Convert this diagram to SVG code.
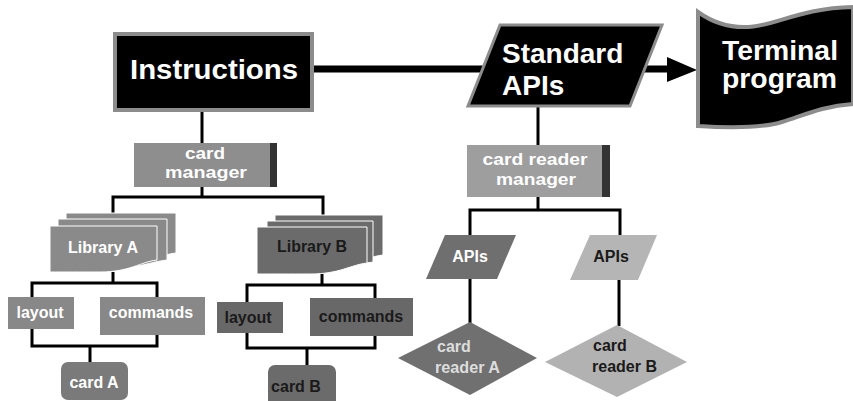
<svg xmlns="http://www.w3.org/2000/svg" width="853" height="401" viewBox="0 0 853 401">
<defs>
<style>
.t{font-family:"Liberation Sans",Arial,sans-serif;font-weight:bold}
.big{font-size:28px;fill:#fff}
.mid{font-size:16px;fill:#fff}
.sm{font-size:16px}
.w{fill:#fff}
.d{fill:#1a1a1a}
.ln{stroke:#000;stroke-width:3;fill:none}
.sheetA{fill:#8a8a8a;stroke:#fff;stroke-width:1}
.sheetB{fill:#6b6b6b;stroke:#fff;stroke-width:1}
</style>
</defs>
<rect width="853" height="401" fill="#fff"/>

<g id="connectors">
<line x1="314" y1="69" x2="670" y2="69" stroke="#000" stroke-width="7"/>
<polygon points="667,57 697,70 667,82" fill="#000"/>
<line class="ln" x1="202" y1="112" x2="202" y2="143"/>
<polyline class="ln" points="113,214 113,197 323,197 323,216"/>
<line class="ln" x1="202" y1="187" x2="202" y2="197"/>
<line class="ln" x1="113" y1="272" x2="113" y2="283"/>
<rect class="ln" x="32" y="283" width="125" height="63"/>
<line class="ln" x1="90" y1="346" x2="90" y2="363"/>
<line class="ln" x1="322" y1="272" x2="322" y2="285"/>
<rect class="ln" x="247" y="285" width="128" height="63"/>
<line class="ln" x1="307" y1="348" x2="307" y2="366"/>
<line class="ln" x1="538" y1="107" x2="538" y2="145"/>
<line class="ln" x1="538" y1="197" x2="538" y2="210"/>
<polyline class="ln" points="470,236 470,210 620,210 620,236"/>
<line class="ln" x1="470" y1="279" x2="470" y2="323"/>
<line class="ln" x1="619" y1="280" x2="619" y2="326"/>
</g>

<g id="instructions">
<rect x="115" y="34" width="197" height="76" fill="#000" stroke="#8c8c8c" stroke-width="4"/>
<text class="t big" x="130" y="79" textLength="168" lengthAdjust="spacingAndGlyphs">Instructions</text>
</g>

<g id="standard-apis">
<polygon points="500,25 662,25 630,106 468,106" fill="#000" stroke="#8c8c8c" stroke-width="3"/>
<text class="t big" x="502" y="63">Standard</text>
<text class="t big" x="502" y="95">APIs</text>
</g>

<g id="terminal-program">
<path d="M698,12 C712,22 728,28 748,27 C775,26 800,8 853,7 L853,104 C822,106 802,116 782,122 C762,128 730,128 698,126 Z" fill="#000" stroke="#8c8c8c" stroke-width="4"/>
<text class="t big" x="722" y="60" font-size="26" textLength="116" lengthAdjust="spacingAndGlyphs">Terminal</text>
<text class="t big" x="722" y="88" font-size="26" textLength="115" lengthAdjust="spacingAndGlyphs">program</text>
</g>

<g id="card-manager">
<rect x="134" y="143" width="143" height="44" fill="#8e8e8e"/>
<rect x="270" y="143" width="7" height="44" fill="#333"/>
<text class="t mid" x="205" y="159" text-anchor="middle" textLength="40" lengthAdjust="spacingAndGlyphs">card</text>
<text class="t mid" x="206" y="178" text-anchor="middle" textLength="82" lengthAdjust="spacingAndGlyphs">manager</text>
</g>

<g id="library-a">
<path class="sheetA" d="M66,213 H176 V253 C160,255 150,262 120,262 C95,262 80,258 66,258 Z"/>
<path class="sheetA" d="M58,219 H167 V260 C150,262 140,268 112,268 C88,268 72,264 58,264 Z"/>
<path class="sheetA" d="M50,226 H157 V260 C140,262 130,272 100,272 C80,272 65,272 50,272 Z"/>
<text class="t sm w" x="103" y="253" text-anchor="middle" textLength="70" lengthAdjust="spacingAndGlyphs">Library A</text>
</g>

<g id="library-b">
<path class="sheetB" d="M275,215 H383 V255 C367,257 357,264 328,264 C303,264 289,260 275,260 Z"/>
<path class="sheetB" d="M267,221 H373 V262 C357,264 347,270 320,270 C296,270 281,266 267,266 Z"/>
<path class="sheetB" d="M257,227 H367 V263 C350,265 340,274 310,274 C290,274 272,274 257,274 Z"/>
<text class="t sm d" x="312" y="252" text-anchor="middle" textLength="70" lengthAdjust="spacingAndGlyphs">Library B</text>
</g>

<g id="layout-a">
<rect x="8" y="297" width="66" height="32" fill="#888"/>
<text class="t sm w" x="40" y="318" text-anchor="middle">layout</text>
</g>
<g id="commands-a">
<rect x="100" y="297" width="105" height="38" fill="#888"/>
<text class="t sm w" x="151" y="318" text-anchor="middle">commands</text>
</g>
<g id="card-a">
<rect x="61" y="362" width="67" height="38" rx="7" fill="#7a7a7a"/>
<text class="t sm w" x="94" y="388" text-anchor="middle" font-size="17">card A</text>
</g>

<g id="layout-b">
<rect x="217" y="302" width="66" height="31" fill="#686868"/>
<text class="t sm d" x="248" y="323" text-anchor="middle">layout</text>
</g>
<g id="commands-b">
<rect x="310" y="298" width="103" height="38" fill="#686868"/>
<text class="t sm d" x="361" y="322" text-anchor="middle">commands</text>
</g>
<g id="card-b">
<rect x="268" y="365" width="68" height="42" rx="7" fill="#6b6b6b"/>
<text class="t sm d" x="296" y="392" text-anchor="middle">card B</text>
</g>

<g id="card-reader-manager">
<rect x="467" y="145" width="143" height="52" fill="#9e9e9e"/>
<rect x="602" y="145" width="8" height="52" fill="#333"/>
<text class="t mid" x="535" y="165" text-anchor="middle" font-size="17" textLength="105" lengthAdjust="spacingAndGlyphs">card reader</text>
<text class="t mid" x="536" y="185" text-anchor="middle" font-size="17" textLength="80" lengthAdjust="spacingAndGlyphs">manager</text>
</g>

<g id="apis-a">
<polygon points="445,235 516,235 497,279 426,279" fill="#6f6f6f"/>
<text class="t sm w" x="470" y="262" text-anchor="middle">APIs</text>
</g>
<g id="apis-b">
<polygon points="590,235 657,235 638,280 570,280" fill="#b5b5b5"/>
<text class="t sm d" x="611" y="262" text-anchor="middle">APIs</text>
</g>

<g id="card-reader-a">
<polygon points="470,322 537,358 470,395 398,358" fill="#707070"/>
<text class="t sm" x="437" y="352" fill="#ddd">card</text>
<text class="t sm" x="435" y="373" fill="#ddd" textLength="65" lengthAdjust="spacingAndGlyphs">reader A</text>
</g>
<g id="card-reader-b">
<polygon points="617,325 687,362 617,397 545,362" fill="#b2b2b2"/>
<text class="t sm d" x="593" y="351">card</text>
<text class="t sm d" x="592" y="372" textLength="65" lengthAdjust="spacingAndGlyphs">reader B</text>
</g>
</svg>
